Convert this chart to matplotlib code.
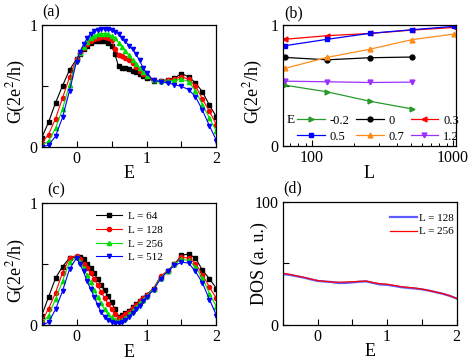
import numpy as np
import matplotlib
matplotlib.use("Agg")
import matplotlib.pyplot as plt

plt.rcParams['font.family'] = ['Liberation Serif', 'DejaVu Serif']
plt.rcParams['mathtext.fontset'] = 'stix'

# ---------------- data ----------------
E = [-0.5, -0.4, -0.3, -0.2, -0.1, 0.0, 0.05, 0.1, 0.15, 0.2, 0.25, 0.3, 0.35,
     0.4, 0.45, 0.5, 0.55, 0.6, 0.65, 0.7, 0.75, 0.8, 0.85, 0.9, 0.95, 1.0,
     1.1, 1.2, 1.3, 1.4, 1.5, 1.6, 1.7, 1.8, 1.9, 2.0]

# panel (a)
Ga_64 = [0.07, 0.20, 0.36, 0.50, 0.63, 0.72, 0.76, 0.80, 0.83, 0.85, 0.865, 0.87, 0.87,
         0.865, 0.855, 0.83, 0.76, 0.66, 0.65, 0.645, 0.635, 0.625, 0.61, 0.595, 0.58, 0.565,
         0.54, 0.54, 0.55, 0.565, 0.60, 0.575, 0.525, 0.45, 0.34, 0.245]
Ga_128 = [0.03, 0.10, 0.23, 0.40, 0.57, 0.72, 0.77, 0.81, 0.845, 0.87, 0.885, 0.895, 0.90,
          0.90, 0.895, 0.88, 0.80, 0.75, 0.745, 0.73, 0.71, 0.685, 0.655, 0.625, 0.60, 0.58,
          0.545, 0.54, 0.545, 0.56, 0.575, 0.555, 0.50, 0.39, 0.29, 0.18]
Ga_256 = [0.01, 0.045, 0.15, 0.31, 0.51, 0.71, 0.77, 0.82, 0.86, 0.89, 0.91, 0.925, 0.93,
          0.93, 0.925, 0.91, 0.89, 0.855, 0.82, 0.79, 0.75, 0.715, 0.68, 0.645, 0.61, 0.585,
          0.55, 0.54, 0.54, 0.545, 0.555, 0.535, 0.46, 0.345, 0.235, 0.125]
Ga_512 = [0.0, 0.012, 0.085, 0.24, 0.46, 0.70, 0.78, 0.84, 0.89, 0.93, 0.95, 0.96, 0.965,
          0.97, 0.965, 0.955, 0.945, 0.93, 0.895, 0.865, 0.83, 0.80, 0.76, 0.71, 0.65, 0.605,
          0.545, 0.535, 0.525, 0.51, 0.495, 0.47, 0.41, 0.30, 0.17, 0.05]

# panel (c)
Gc_64 = [0.075, 0.23, 0.385, 0.48, 0.55, 0.56, 0.555, 0.54, 0.505, 0.47, 0.425, 0.38, 0.33,
         0.285, 0.24, 0.19, 0.13, 0.07, 0.085, 0.10, 0.12, 0.15, 0.175, 0.20, 0.225, 0.25,
         0.30, 0.39, 0.445, 0.50, 0.572, 0.583, 0.55, 0.45, 0.38, 0.30]
Gc_128 = [0.027, 0.135, 0.265, 0.43, 0.55, 0.57, 0.54, 0.50, 0.465, 0.43, 0.38, 0.33, 0.275,
          0.225, 0.175, 0.13, 0.09, 0.06, 0.065, 0.09, 0.11, 0.14, 0.17, 0.195, 0.22, 0.245,
          0.30, 0.40, 0.445, 0.50, 0.556, 0.55, 0.505, 0.415, 0.31, 0.22]
Gc_256 = [0.01, 0.08, 0.215, 0.36, 0.52, 0.555, 0.52, 0.47, 0.41, 0.35, 0.29, 0.235, 0.18,
          0.13, 0.09, 0.065, 0.045, 0.035, 0.04, 0.06, 0.09, 0.12, 0.15, 0.18, 0.21, 0.24,
          0.295, 0.39, 0.44, 0.50, 0.54, 0.53, 0.48, 0.385, 0.26, 0.15]
Gc_512 = [0.0, 0.025, 0.13, 0.28, 0.46, 0.55, 0.50, 0.44, 0.36, 0.30, 0.235, 0.17, 0.11,
          0.07, 0.045, 0.025, 0.018, 0.017, 0.025, 0.045, 0.07, 0.10, 0.13, 0.16, 0.195, 0.23,
          0.29, 0.38, 0.44, 0.49, 0.515, 0.51, 0.44, 0.345, 0.21, 0.08]
labels_c = ['L = 64', 'L = 128', 'L = 256', 'L = 512']

# panel (b)
L_all = [64, 128, 256, 512, 1024]
Gb_m02 = [0.504, 0.449, 0.372, 0.308]
Gb_0 = [0.733, 0.713, 0.73, 0.736]
Gb_03 = [0.882, 0.912, 0.93, 0.958, 0.98]
Gb_05 = [0.829, 0.882, 0.931, 0.961, 0.989]
Gb_07 = [0.642, 0.733, 0.80, 0.879, 0.926]
Gb_12 = [0.537, 0.532, 0.526, 0.529]
labels_b = ['-0.2', '0', '0.3', '0.5', '0.7', '1.2']

# panel (d)
E_d = [-0.5, -0.4, -0.3, -0.2, -0.1, 0.0, 0.1, 0.2, 0.3, 0.4, 0.5, 0.6, 0.7,
       0.8, 0.9, 1.0, 1.1, 1.2, 1.3, 1.4, 1.5, 1.6, 1.7, 1.8, 1.9, 2.0]
dos_128 = [41.3, 40.6, 39.5, 38.4, 37.0, 35.7, 35.2, 34.8, 34.0, 34.0, 34.5, 35.0, 35.3,
           34.0, 32.8, 32.5, 31.6, 30.6, 30.0, 29.5, 28.8, 27.8, 26.5, 25.2, 23.5, 21.3]
dos_256 = [42.0, 41.0, 39.8, 38.6, 37.3, 36.0, 35.4, 34.8, 34.6, 34.8, 35.0, 35.3, 35.6,
           34.3, 33.4, 33.0, 32.0, 31.0, 30.4, 29.9, 29.0, 27.9, 26.6, 25.3, 23.6, 21.4]

E_ticks = [-0.5, 0, 0.5, 1, 1.5, 2]
E_ticklabels = ['', '0', '', '1', '', '2']
G_ticks = [0, 0.5, 1]
G_ticklabels = ['0', '', '1']
D_ticks = [0, 50, 100]
D_ticklabels = ['0', '', '100']

# ---------------- figure ----------------
W, H = 471., 360.
fig = plt.figure(figsize=(W / 100, H / 100), dpi=100)

def rect(x0, x1, y0, y1):
    # pixel box -> figure fraction
    return [x0 / W, 1 - y1 / H, (x1 - x0) / W, (y1 - y0) / H]

axa = fig.add_axes(rect(41.5, 216.5, 25, 146.7))
axb = fig.add_axes(rect(282.7, 456.0, 25, 146.3))
axc = fig.add_axes(rect(41.5, 216.5, 203, 325.3))
axd = fig.add_axes(rect(282.7, 456.7, 202, 324.7))

tfs = 11.5
lfs = 13

for ax in [axa, axb, axc, axd]:
    ax.tick_params(direction='in', which='both', top=False, right=False,
                   labelsize=tfs, pad=3)
    ax.tick_params(which='major', length=4, width=0.8)
    ax.tick_params(which='minor', length=2.5, width=0.7)
    for s in ax.spines.values():
        s.set_linewidth(0.9)

cols = ['black', 'red', '#00dd00', 'blue']
marks = ['s', 'o', '^', 'v']
ylab = r'G(2e$^2$/h)'

for ax, series in [(axa, [Ga_64, Ga_128, Ga_256, Ga_512]),
                   (axc, [Gc_64, Gc_128, Gc_256, Gc_512])]:
    for y, c, m, lab in zip(series, cols, marks, labels_c):
        ax.plot(E, y, color=c, marker=m, ms=3.0, lw=0.8, label=lab)
    ax.set_xlim(-0.5, 2)
    ax.set_ylim(0, 1)
    ax.set_xticks(E_ticks)
    ax.set_xticklabels(E_ticklabels)
    ax.set_yticks(G_ticks)
    ax.set_yticklabels(G_ticklabels)
    ax.set_xlabel('E', fontsize=lfs, labelpad=-1)
    ax.set_ylabel(ylab, fontsize=lfs)
    ax.yaxis.set_label_coords(-0.075, 0.45)

axc.legend(loc='upper left', bbox_to_anchor=(0.31, 0.93), frameon=False,
           fontsize=8, handlelength=2.4, handletextpad=0.5, labelspacing=0.35,
           borderpad=0, borderaxespad=0)

# panel (b)
b_series = [(L_all[:4], Gb_m02, '#2a9a2a', '>'),
            (L_all[:4], Gb_0, 'black', 'o'),
            (L_all, Gb_03, 'red', '<'),
            (L_all, Gb_05, 'blue', 's'),
            (L_all, Gb_07, '#ff8c1a', '^'),
            (L_all[:4], Gb_12, '#9b30ff', 'v')]
hb = []
for (x, y, c, m), lab in zip(b_series, labels_b):
    h, = axb.plot(x, y, color=c, marker=m, ms=3.5, lw=0.9, label=lab)
    hb.append(h)
axb.set_xscale('log')
axb.set_xlim(62, 1050)
axb.set_ylim(0, 1)
axb.set_yticks(G_ticks)
axb.set_yticklabels(G_ticklabels)
axb.set_xticks([100, 1000])
axb.set_xticklabels(['100', '1000'])
axb.set_xlabel('L', fontsize=lfs, labelpad=-1)
axb.set_ylabel(ylab, fontsize=lfs)
axb.yaxis.set_label_coords(-0.1, 0.45)
order = [0, 3, 1, 4, 2, 5]
axb.legend([hb[i] for i in order], [labels_b[i] for i in order], ncol=3,
           loc='upper left', bbox_to_anchor=(0.085, 0.26), frameon=False,
           fontsize=9, handlelength=2.2, handletextpad=0.4, columnspacing=0.5,
           labelspacing=0.3, borderpad=0, borderaxespad=0)
axb.text(0.025, 0.215, 'E', transform=axb.transAxes, fontsize=9.5, va='center')

# panel (d)
axd.plot(E_d, dos_128, color='#5c5cff', lw=1.6, label='L = 128')
axd.plot(E_d, dos_256, color='red', lw=0.9, label='L = 256')
axd.set_xlim(-0.5, 2)
axd.set_ylim(0, 100)
axd.set_xticks(E_ticks)
axd.set_xticklabels(E_ticklabels)
axd.set_yticks(D_ticks)
axd.set_yticklabels(D_ticklabels)
axd.set_xlabel('E', fontsize=lfs, labelpad=-1)
axd.set_ylabel('DOS (a. u.)', fontsize=lfs)
axd.yaxis.set_label_coords(-0.085, 0.5)
axd.legend(loc='upper right', bbox_to_anchor=(0.985, 0.91), frameon=False,
           fontsize=8, handlelength=2.4, handletextpad=0.2, labelspacing=0.35,
           borderpad=0, borderaxespad=0)

# panel letters
for lab, x, y in [('(a)', 42, 12.5), ('(b)', 284, 13), ('(c)', 47, 190), ('(d)', 283, 188)]:
    fig.text(x / W, 1 - y / H, lab, fontsize=tfs, va='center', ha='left')

fig.savefig('out.png', dpi=100)
